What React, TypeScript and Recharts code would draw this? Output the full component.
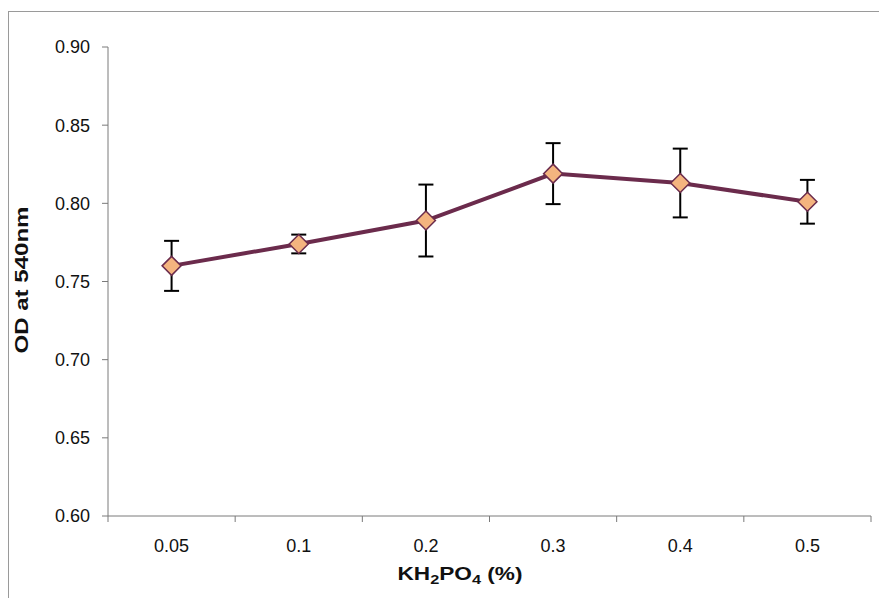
import React from 'react';
import { LineChart, Line, XAxis, YAxis, ErrorBar } from 'recharts';

// KH2PO4 concentrations (%) tested
const categories = ['0.05', '0.1', '0.2', '0.3', '0.4', '0.5'];
// Mean optical density at 540 nm
const odMeans = [0.760, 0.774, 0.789, 0.819, 0.813, 0.801];
// Standard deviation for each mean
const odErrors = [0.016, 0.006, 0.023, 0.0195, 0.022, 0.014];
// Y axis ticks
const yTicks = [0.6, 0.65, 0.7, 0.75, 0.8, 0.85, 0.9];

const data = categories.map((c, i) => ({ pos: i, label: c, od: odMeans[i], err: odErrors[i] }));

// Category centres carry labels, half-steps carry tick marks (Excel-style between-category ticks)
const xTicks: number[] = [];
for (let i = 0; i <= categories.length; i++) {
  xTicks.push(i - 0.5);
  if (i < categories.length) xTicks.push(i);
}

const FONT = '"Liberation Sans", Arial, sans-serif';
const LINE_COLOR = '#6b2b4c';
const AXIS_COLOR = '#7a7a7a';

const Diamond = (props: any) => {
  const { cx, cy } = props;
  if (cx == null || cy == null) return null;
  const r = 9.5;
  return (
    <polygon
      points={`${cx},${cy - r} ${cx + r},${cy} ${cx},${cy + r} ${cx - r},${cy}`}
      fill="#f4b47f"
      stroke={LINE_COLOR}
      strokeWidth={1.5}
    />
  );
};

const XTick = (props: any) => {
  const { x, y, payload } = props;
  const v = payload.value;
  if (Math.abs(v - Math.round(v)) > 0.01) {
    return <line x1={x} y1={y} x2={x} y2={y + 6} stroke={AXIS_COLOR} strokeWidth={1} />;
  }
  return (
    <text x={x} y={y + 36} textAnchor="middle" fontFamily={FONT} fontSize={18} fill="#111">
      {categories[Math.round(v)]}
    </text>
  );
};

export default function App() {
  return (
    <div style={{ position: 'absolute', left: 0, top: 0, width: 879, height: 598, background: '#fff', overflow: 'hidden' }}>
      <div
        style={{
          position: 'absolute',
          left: 8,
          top: 11,
          width: 900,
          height: 600,
          borderLeft: '1px solid #9a9a9a',
          borderTop: '1px solid #9a9a9a',
        }}
      />
      <div style={{ position: 'absolute', left: 0, top: 0 }}>
        <LineChart width={879} height={598} data={data} margin={{ top: 47, right: 8, bottom: 32, left: 0 }}>
          <XAxis
            dataKey="pos"
            type="number"
            domain={[-0.5, categories.length - 0.5]}
            ticks={xTicks}
            interval={0}
            tickLine={false}
            tickSize={0}
            tickMargin={0}
            tick={<XTick />}
            height={50}
            axisLine={{ stroke: AXIS_COLOR, strokeWidth: 1 }}
            label={{
              content: () => (
                <text x={460} y={580} textAnchor="middle" fontFamily={FONT} fontWeight="bold" fontSize={18} fill="#111" textLength={125} lengthAdjust="spacingAndGlyphs">
                  KH
                  <tspan fontSize={13} dy={4}>2</tspan>
                  <tspan dy={-4}>PO</tspan>
                  <tspan fontSize={13} dy={4}>4</tspan>
                  <tspan dy={-4}> (%)</tspan>
                </text>
              ),
            }}
          />
          <YAxis
            type="number"
            domain={[0.6, 0.9]}
            ticks={yTicks}
            interval={0}
            width={108}
            tickFormatter={(v: number) => v.toFixed(2)}
            tickSize={6}
            tickMargin={12}
            tickLine={{ stroke: AXIS_COLOR }}
            axisLine={{ stroke: AXIS_COLOR, strokeWidth: 1 }}
            tick={{ fontFamily: FONT, fontSize: 18, fill: '#111' }}
            label={{
              content: () => (
                <text
                  x={28}
                  y={280}
                  transform="rotate(-90, 28, 280)"
                  textAnchor="middle"
                  fontFamily={FONT}
                  fontWeight="bold"
                  fontSize={18}
                  fill="#111"
                  textLength={147}
                  lengthAdjust="spacingAndGlyphs"
                >
                  OD at 540nm
                </text>
              ),
            }}
          />
          <Line
            type="linear"
            dataKey="od"
            stroke={LINE_COLOR}
            strokeWidth={4}
            dot={<Diamond />}
            activeDot={false}
            isAnimationActive={false}
          >
            <ErrorBar dataKey="err" direction="y" width={7.5} stroke="#000" strokeWidth={2} />
          </Line>
        </LineChart>
      </div>
    </div>
  );
}
